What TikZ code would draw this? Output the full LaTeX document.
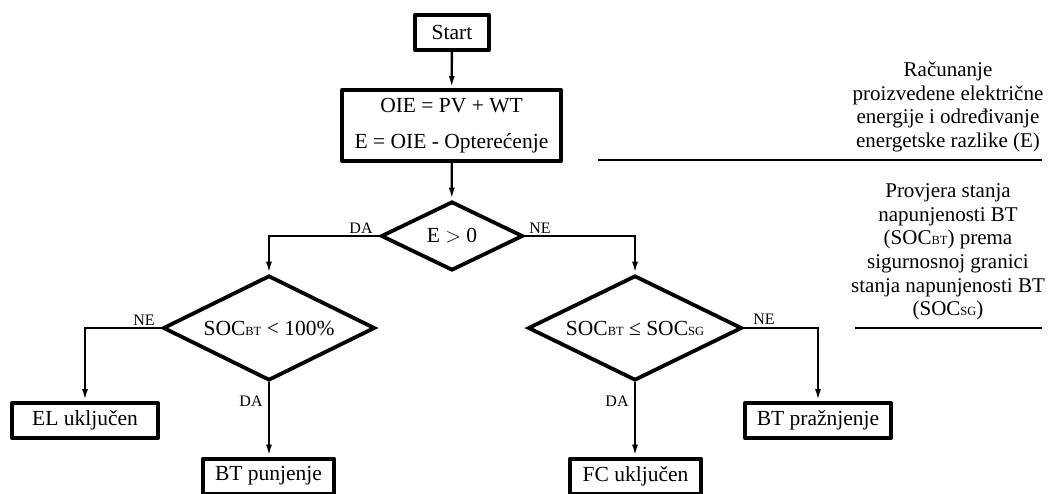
\documentclass[tikz,border=0pt]{standalone}
\usepackage{fontspec}
\setmainfont{Liberation Serif}
\usetikzlibrary{shapes.geometric,arrows.meta}
\newcommand{\sbs}[1]{{\fontsize{12.5}{12.5}\selectfont #1}}
\begin{document}
\begin{tikzpicture}[x=1pt,y=-1pt,
  box/.style={draw,line width=4pt,inner sep=0pt,line join=round,font=\fontsize{21.5}{24}\selectfont},
  dia/.style={draw,diamond,aspect=2,line width=3.8pt,inner sep=0pt,font=\fontsize{21.5}{24}\selectfont},
  conn/.style={line width=2.3pt,-{Latex[length=12pt,width=6pt]}},
  lbl/.style={font=\fontsize{16}{16}\selectfont,inner sep=0pt},
  side/.style={align=center,font=\fontsize{21}{23.7}\selectfont,inner sep=0pt},
  sep/.style={line width=2.6pt}]
\useasboundingbox (0,0) rectangle (1057,493);
% boxes
\node[box,minimum width=74pt,minimum height=35pt] (start) at (452,32.5) {Start};
\node[box,minimum width=219pt,minimum height=71pt,align=center,font=\fontsize{21.5}{36}\selectfont] (calc) at (451.5,125.5) {OIE = PV + WT\\E = OIE - Optere\'cenje};
\node[dia,minimum width=142pt,minimum height=69pt] (e) at (452,236) {E $>$ 0};
\node[dia,minimum width=212pt,minimum height=105pt] (ld) at (269,328) {SOC\sbs{BT} < 100\%};
\node[dia,minimum width=214pt,minimum height=105pt] (rd) at (635,328) {SOC\sbs{BT} ≤ SOC\sbs{SG}};
\node[box,minimum width=146pt,minimum height=35pt] (el) at (85,420.5) {EL uključen};
\node[box,minimum width=131pt,minimum height=35pt] (btp) at (268.5,476) {BT punjenje};
\node[box,minimum width=131pt,minimum height=35pt] (fc) at (635.5,476) {FC uključen};
\node[box,minimum width=146pt,minimum height=35pt] (btz) at (818,420.5) {BT pražnjenje};
% connectors
\draw[conn] (start) -- (calc);
\draw[conn] (calc) -- (e);
\draw[conn] (e.west) -| (ld.north);
\draw[conn] (e.east) -| (rd.north);
\draw[conn] (ld.west) -| (el.north);
\draw[conn] (ld.south) -- (btp.north -| ld.south);
\draw[conn] (rd.east) -| (btz.north);
\draw[conn] (rd.south) -- (fc.north -| rd.south);
% labels
\node[lbl] (l1) at (361,228) {DA};
\node[lbl] (l2) at (540,228) {NE};
\node[lbl] (l3) at (144,320) {NE};
\node[lbl] (l4) at (251,401) {DA};
\node[lbl] (l5) at (764,319) {NE};
\node[lbl] (l6) at (617,401) {DA};
% side notes
\coordinate (s1a) at (598,160);
\coordinate (s1b) at (1042,160);
\coordinate (s2a) at (855,328);
\coordinate (s2b) at (1042,328);
\draw[sep] (s1a) -- (s1b);
\draw[sep] (s2a) -- (s2b);
\node[side] (t1) at (948,107) {Računanje\\proizvedene električne\\energije i određivanje\\energetske razlike (E)};
\node[side] (t2) at (948,252) {Provjera stanja\\napunjenosti BT\\(SOC\sbs{BT}) prema\\sigurnosnoj granici\\stanja napunjenosti BT\\(SOC\sbs{SG})};
\end{tikzpicture}
\end{document}
